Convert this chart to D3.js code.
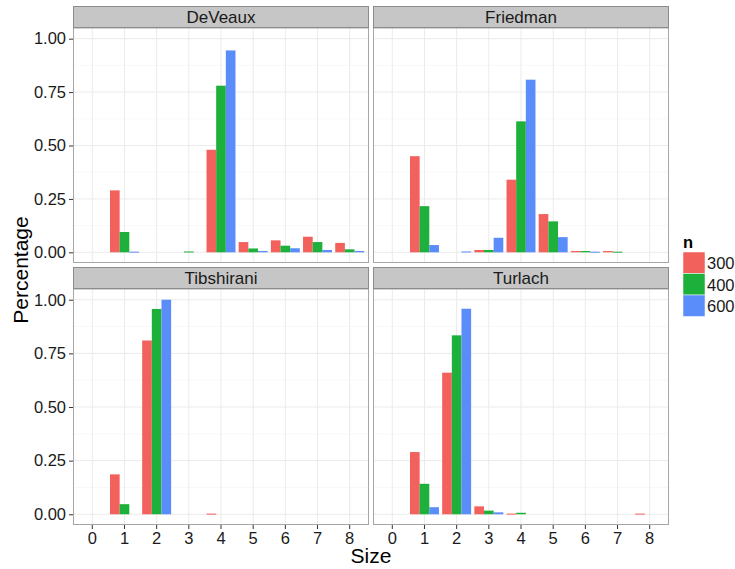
<!DOCTYPE html>
<html><head><meta charset="utf-8">
<script src="https://cdn.jsdelivr.net/npm/d3@7"></script>
<style>body{margin:0;background:#fff;font-family:"Liberation Sans",Arial,sans-serif;}</style>
</head><body>
<svg id="chart" width="735" height="569"></svg>
<script>
const sizes = ["0","1","2","3","4","5","6","7","8"];
const methods = ["DeVeaux","Friedman","Tibshirani","Turlach"];
const nLevels = ["300","400","600"];
const colors = ["#F2615C","#1DB03A","#5A8DFA"];
const yTicks = [0,0.25,0.5,0.75,1.0];
const yTickLabels = ["0.00","0.25","0.50","0.75","1.00"];

// values by size 0..8
const deveaux300 = [0,0.29,0,0,0.48,0.048,0.056,0.073,0.044];
const deveaux400 = [0,0.095,0,0.004,0.78,0.018,0.031,0.048,0.014];
const deveaux600 = [0,0.003,0,0,0.945,0.006,0.019,0.011,0.006];
const friedman300 = [0,0.45,0,0.011,0.34,0.179,0.006,0.006,0];
const friedman400 = [0,0.216,0,0.011,0.613,0.145,0.006,0.003,0];
const friedman600 = [0,0.034,0.004,0.068,0.808,0.071,0.003,0,0];
const tibshirani300 = [0,0.186,0.81,0,0.003,0,0,0,0];
const tibshirani400 = [0,0.047,0.957,0,0,0,0,0,0];
const tibshirani600 = [0,0,1.0,0,0,0,0,0,0];
const turlach300 = [0,0.29,0.66,0.037,0.003,0,0,0,0.003];
const turlach400 = [0,0.142,0.834,0.017,0.007,0,0,0,0];
const turlach600 = [0,0.033,0.958,0.009,0,0,0,0,0];

const seriesByMethod = {
  DeVeaux: [deveaux300, deveaux400, deveaux600],
  Friedman: [friedman300, friedman400, friedman600],
  Tibshirani: [tibshirani300, tibshirani400, tibshirani600],
  Turlach: [turlach300, turlach400, turlach600]
};

const svg = d3.select("#chart");
const colX = [[73,369],[373,669]];
const rowY = [{strip:[6,28], plot:[28,263]}, {strip:[267,289], plot:[289,525]}];
const TICK_FS = 16.5;

const xCont = (range) => d3.scaleLinear().domain([-0.6, 8.6]).range(range);

methods.forEach((m, i) => {
  const col = i % 2, row = Math.floor(i / 2);
  const [x0, x1] = colX[col];
  const r = rowY[row];
  const [py0, py1] = r.plot;
  const x = xCont([x0, x1]);
  const y = d3.scaleLinear().domain([-0.05, 1.05]).range([py1, py0]);
  const g = svg.append("g");

  g.append("rect").attr("x", x0).attr("y", py0).attr("width", x1 - x0).attr("height", py1 - py0).attr("fill", "#fff");
  [0.125,0.375,0.625,0.875].forEach(v => {
    g.append("line").attr("x1", x0).attr("x2", x1).attr("y1", y(v)).attr("y2", y(v))
      .attr("stroke", "#f4f4f4").attr("stroke-width", 0.6);
  });
  yTicks.forEach(v => {
    g.append("line").attr("x1", x0).attr("x2", x1).attr("y1", y(v)).attr("y2", y(v))
      .attr("stroke", "#ebebeb").attr("stroke-width", 1);
  });
  sizes.forEach((s, k) => {
    g.append("line").attr("x1", x(k)).attr("x2", x(k)).attr("y1", py0).attr("y2", py1)
      .attr("stroke", "#ebebeb").attr("stroke-width", 1);
  });

  const bw = 0.3;
  seriesByMethod[m].forEach((vals, j) => {
    const data = vals.map((v, k) => ({k, v})).filter(d => d.v > 0);
    g.selectAll(null).data(data).enter().append("rect")
      .attr("x", d => x(d.k - 0.45 + j * bw))
      .attr("width", d => x(d.k - 0.45 + (j + 1) * bw) - x(d.k - 0.45 + j * bw))
      .attr("y", d => y(d.v))
      .attr("height", d => Math.max(1, y(0) - y(d.v)))
      .attr("fill", colors[j]);
  });

  g.append("rect").attr("x", x0 + 0.5).attr("y", py0).attr("width", x1 - x0 - 1).attr("height", py1 - py0 - 0.5)
    .attr("fill", "none").attr("stroke", "#a6a6a6").attr("stroke-width", 1);

  const [sy0, sy1] = r.strip;
  g.append("rect").attr("x", x0 + 0.5).attr("y", sy0 + 0.5).attr("width", x1 - x0 - 1).attr("height", sy1 - sy0 - 1)
    .attr("fill", "#c6c6c6").attr("stroke", "#8c8c8c").attr("stroke-width", 1);
  g.append("text").attr("x", (x0 + x1) / 2).attr("y", (sy0 + sy1) / 2 + 6)
    .attr("text-anchor", "middle").attr("font-size", 17).attr("fill", "#1a1a1a").text(m);

  if (col === 0) {
    const ax = d3.axisLeft(y).tickValues(yTicks).tickFormat((d, idx) => yTickLabels[idx]).tickSize(4).tickPadding(3);
    const a = svg.append("g").attr("transform", `translate(${x0},0)`).call(ax);
    a.select(".domain").remove();
    a.selectAll(".tick line").attr("stroke", "#333");
    a.selectAll("text").attr("font-size", TICK_FS).attr("fill", "#1a1a1a")
      .attr("font-family", "Liberation Sans, Arial, sans-serif");
  }
  if (row === 1) {
    const xb = d3.scaleBand().domain(sizes).range([x(-0.5), x(8.5)]).padding(0);
    const ax = d3.axisBottom(xb).tickSize(4).tickPadding(3);
    const a = svg.append("g").attr("transform", `translate(0,${py1})`).call(ax);
    a.select(".domain").remove();
    a.selectAll(".tick line").attr("stroke", "#333");
    a.selectAll("text").attr("font-size", TICK_FS).attr("fill", "#1a1a1a")
      .attr("font-family", "Liberation Sans, Arial, sans-serif");
  }
});

svg.append("text").attr("x", 371).attr("y", 563).attr("text-anchor", "middle")
  .attr("font-size", 21).attr("fill", "#000").text("Size");
svg.append("text").attr("transform", "translate(28,270) rotate(-90)").attr("text-anchor", "middle")
  .attr("font-size", 21).attr("fill", "#000").text("Percentage");

const lg = svg.append("g");
lg.append("text").attr("x", 683).attr("y", 248).attr("font-size", 16.5).attr("font-weight", "bold").text("n");
nLevels.forEach((n, j) => {
  lg.append("rect").attr("x", 683).attr("y", 252 + j * 21.5).attr("width", 22).attr("height", 21.5)
    .attr("fill", colors[j]).attr("stroke", "#fff").attr("stroke-width", 0.5);
  lg.append("text").attr("x", 707).attr("y", 252 + j * 21.5 + 17).attr("font-size", 16.5).attr("fill", "#1a1a1a").text(n);
});
</script>
</body></html>
